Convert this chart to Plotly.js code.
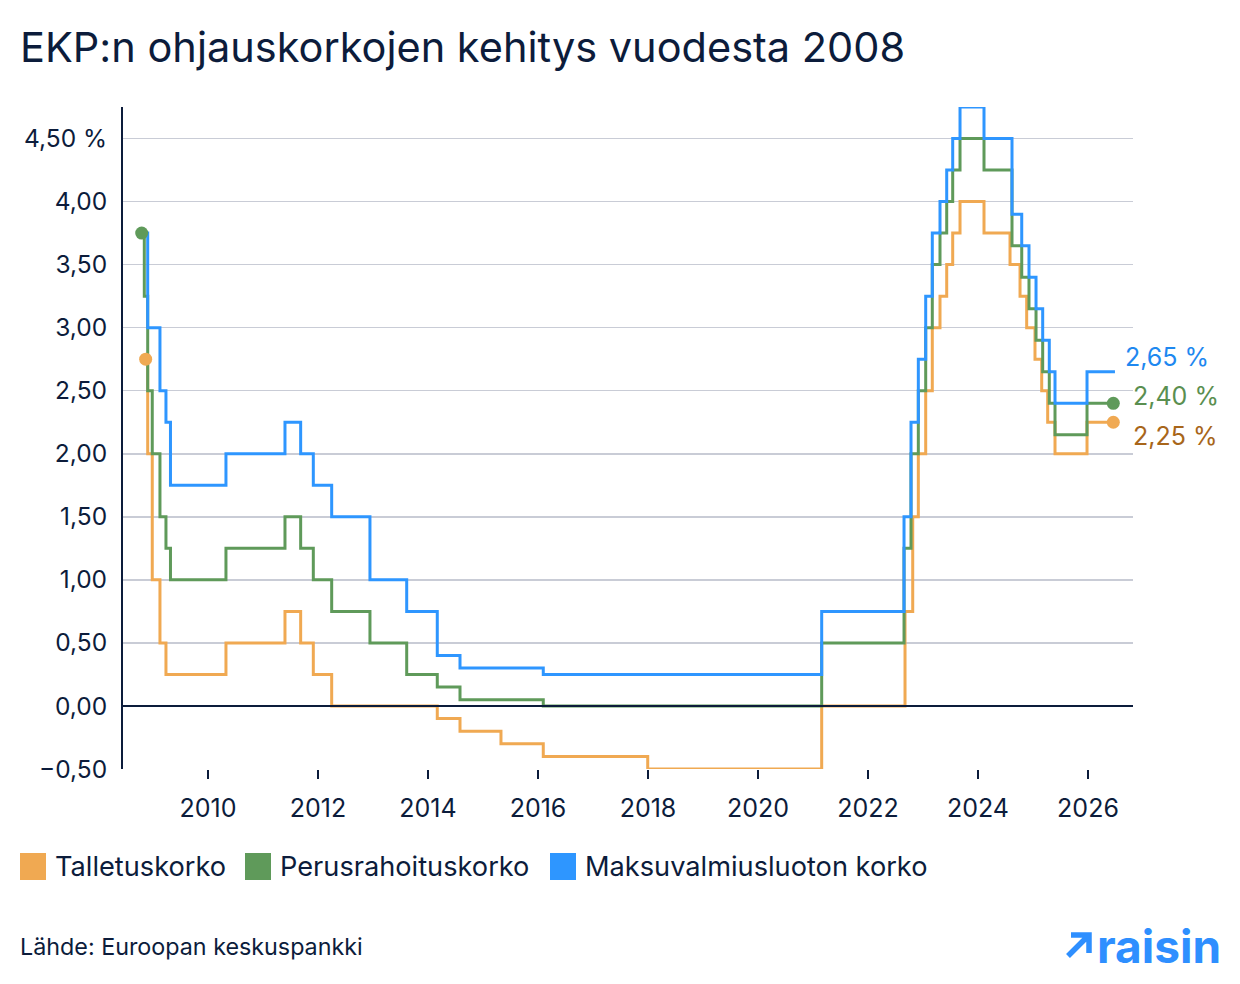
<!DOCTYPE html>
<html>
<head>
<meta charset="utf-8">
<script src="https://cdn.plot.ly/plotly-3.0.1.min.js"></script>
<style>
html, body { margin: 0; padding: 0; background: #ffffff; }
#chart { width: 1240px; height: 984px; }
</style>
</head>
<body>
<div id="chart"></div>
<script>
// ---- Data (x = decimal year) ----
const seriesNames = ['Talletuskorko', 'Perusrahoituskorko', 'Maksuvalmiusluoton korko'];

const depositDates = [2008.867, 2008.904, 2008.987, 2009.127, 2009.236, 2010.327, 2011.400, 2011.685, 2011.915, 2012.249,
  2014.169, 2014.582, 2015.327, 2016.096, 2017.995, 2021.158, 2022.673, 2022.813, 2022.915, 2023.049,
  2023.169, 2023.309, 2023.431, 2023.540, 2023.673, 2024.109, 2024.582, 2024.764, 2024.885, 2025.036,
  2025.158, 2025.267, 2025.400, 2025.982, 2026.460];
const depositRates = [2.75, 2.00, 1.00, 0.50, 0.25, 0.50, 0.75, 0.50, 0.25, 0.00,
  -0.10, -0.20, -0.30, -0.40, -0.50, 0.00, 0.75, 1.50, 2.00, 2.50,
  3.00, 3.25, 3.50, 3.75, 4.00, 3.75, 3.50, 3.25, 3.00, 2.75,
  2.50, 2.25, 2.00, 2.25, 2.25];

const mainDates = [2008.795, 2008.842, 2008.904, 2008.987, 2009.127, 2009.236, 2009.318, 2010.327, 2011.400, 2011.685,
  2011.915, 2012.249, 2012.945, 2013.613, 2014.169, 2014.582, 2016.096, 2021.158, 2022.655, 2022.782,
  2022.915, 2023.049, 2023.169, 2023.309, 2023.431, 2023.540, 2023.673, 2024.109, 2024.618, 2024.795,
  2024.927, 2025.055, 2025.176, 2025.296, 2025.400, 2025.982, 2026.460];
const mainRates = [3.75, 3.25, 2.50, 2.00, 1.50, 1.25, 1.00, 1.25, 1.50, 1.25,
  1.00, 0.75, 0.50, 0.25, 0.15, 0.05, 0.00, 0.50, 1.25, 2.00,
  2.50, 3.00, 3.50, 3.75, 4.00, 4.25, 4.50, 4.25, 3.65, 3.40,
  3.15, 2.90, 2.65, 2.40, 2.15, 2.40, 2.40];

const marginalDates = [2008.860, 2008.904, 2009.127, 2009.236, 2009.318, 2010.327, 2011.400, 2011.685, 2011.915, 2012.249,
  2012.945, 2013.613, 2014.169, 2014.582, 2016.096, 2021.158, 2022.655, 2022.782, 2022.915, 2023.049,
  2023.169, 2023.309, 2023.431, 2023.540, 2023.673, 2024.109, 2024.618, 2024.795, 2024.927, 2025.055,
  2025.176, 2025.296, 2025.400, 2025.982, 2026.490];
const marginalRates = [3.75, 3.00, 2.50, 2.25, 1.75, 2.00, 2.25, 2.00, 1.75, 1.50,
  1.00, 0.75, 0.40, 0.30, 0.25, 0.75, 1.50, 2.25, 2.75, 3.25,
  3.75, 4.00, 4.25, 4.50, 4.75, 4.50, 3.90, 3.65, 3.40, 3.15,
  2.90, 2.65, 2.40, 2.65, 2.65];

const yearTicks = [2010, 2012, 2014, 2016, 2018, 2020, 2022, 2024, 2026];
const rateTicks = [-0.5, 0, 0.5, 1, 1.5, 2, 2.5, 3, 3.5, 4, 4.5];
const rateTickLabels = ['\u22120,50', '0,00', '0,50', '1,00', '1,50', '2,00', '2,50', '3,00', '3,50', '4,00', '4,50 %'];

// ---- Styles ----
const NAVY = '#0C1C3B';
const FONT = 'Inter, "Noto Sans", Roboto, sans-serif';
const lineColors = ['#F0A952', '#5F9A5A', '#2E96FF'];
const labelColors = ['#A8661A', '#5A8F50', '#1E88F0'];

const W = 1240, H = 984;
const M = { l: 123, r: 107, t: 107, b: 215 };
const PW = W - M.l - M.r, PH = H - M.t - M.b;
const px = v => (v - M.l) / PW;           // pixel x -> paper x
const py = v => (H - M.b - v) / PH;       // pixel y -> paper y

const series = [
  { x: depositDates, y: depositRates, marker: true, lblShift: [18, -14] },
  { x: mainDates, y: mainRates, marker: true, lblShift: [18, 7] },
  { x: marginalDates, y: marginalRates, marker: false, lblShift: [8, 15] }
];

const traces = [];
series.forEach((s, i) => {
  traces.push({
    type: 'scatter', mode: 'lines', name: seriesNames[i],
    x: s.x, y: s.y,
    line: { shape: 'hv', color: lineColors[i], width: 3 },
    showlegend: false, hoverinfo: 'skip'
  });
});
series.forEach((s, i) => {
  if (!s.marker) return;
  const n = s.x.length - 1;
  traces.push({
    type: 'scatter', mode: 'markers', name: seriesNames[i],
    x: [s.x[0], s.x[n]], y: [s.y[0], s.y[n]],
    marker: { color: lineColors[i], size: 13 },
    showlegend: false, hoverinfo: 'skip'
  });
});

const fmt = v => v.toFixed(2).replace('.', ',') + ' %';

const annotations = [];
series.forEach((s, i) => {
  const n = s.x.length - 1;
  annotations.push({
    x: s.x[n], y: s.y[n], xref: 'x', yref: 'y',
    text: fmt(s.y[n]), showarrow: false,
    xanchor: 'left', yanchor: 'middle',
    xshift: s.lblShift[0], yshift: s.lblShift[1],
    font: { family: FONT, size: 25, color: labelColors[i] }
  });
});

// legend (manual, to get the large swatches)
const legendSwatchX = [20, 245, 550];
const shapes = [];
seriesNames.forEach((name, i) => {
  const x0 = legendSwatchX[i];
  shapes.push({
    type: 'rect', xref: 'paper', yref: 'paper',
    x0: px(x0), x1: px(x0 + 26), y0: py(880), y1: py(853),
    fillcolor: lineColors[i], line: { width: 0 }
  });
  annotations.push({
    xref: 'paper', yref: 'paper', x: px(x0 + 33), y: py(866),
    xanchor: 'left', yanchor: 'middle', showarrow: false,
    text: name, font: { family: FONT, size: 27.2, color: NAVY }
  });
});

// zero line drawn above the series
shapes.push({
  type: 'line', xref: 'paper', yref: 'y', x0: 0, x1: 1, y0: 0, y1: 0,
  line: { color: NAVY, width: 2 }, layer: 'above'
});

// source
annotations.push({
  xref: 'paper', yref: 'paper', x: px(18), y: py(946),
  xanchor: 'left', yanchor: 'middle', showarrow: false,
  text: 'L\u00e4hde: Euroopan keskuspankki',
  font: { family: FONT, size: 23.3, color: NAVY }
});

// raisin logo
const LOGO = '#2E8FFF';
shapes.push({
  type: 'path', xref: 'paper', yref: 'paper',
  path: 'M' + px(1071) + ',' + py(935) + ' L' + px(1089) + ',' + py(935) + ' L' + px(1089) + ',' + py(953) +
        ' M' + px(1089) + ',' + py(935) + ' L' + px(1068) + ',' + py(956),
  line: { color: LOGO, width: 5.5 }
});
annotations.push({
  xref: 'paper', yref: 'paper', x: px(1095), y: py(946),
  xanchor: 'left', yanchor: 'middle', showarrow: false,
  text: '<b>raisin</b>',
  font: { family: FONT, size: 46, color: LOGO }
});

const layout = {
  width: W, height: H,
  margin: M,
  paper_bgcolor: '#ffffff', plot_bgcolor: '#ffffff',
  font: { family: FONT, color: NAVY },
  title: {
    text: 'EKP:n ohjauskorkojen kehitys vuodesta 2008',
    xref: 'container', yref: 'container',
    x: 20 / W, xanchor: 'left', y: 1 - 47 / H, yanchor: 'middle',
    font: { family: FONT, size: 41.5, color: NAVY }
  },
  showlegend: false,
  xaxis: {
    range: [2008.455, 2026.818],
    tickvals: yearTicks, ticktext: yearTicks.map(String),
    ticks: 'outside', ticklen: 9, tickwidth: 2, tickcolor: NAVY,
    ticklabelstandoff: 8,
    showgrid: false, zeroline: false, showline: false,
    tickfont: { family: FONT, size: 25, color: NAVY },
    fixedrange: true
  },
  yaxis: {
    range: [-0.5, 4.75],
    tickvals: rateTicks, ticktext: rateTickLabels,
    ticks: '', ticklabelstandoff: 9,
    showgrid: true, gridcolor: '#C9CCD6', gridwidth: 1.5,
    zeroline: false,
    showline: true, linecolor: NAVY, linewidth: 2,
    tickfont: { family: FONT, size: 24.5, color: NAVY },
    fixedrange: true
  },
  shapes: shapes,
  annotations: annotations
};

Plotly.newPlot('chart', traces, layout, { staticPlot: true, displayModeBar: false });
</script>
</body>
</html>
